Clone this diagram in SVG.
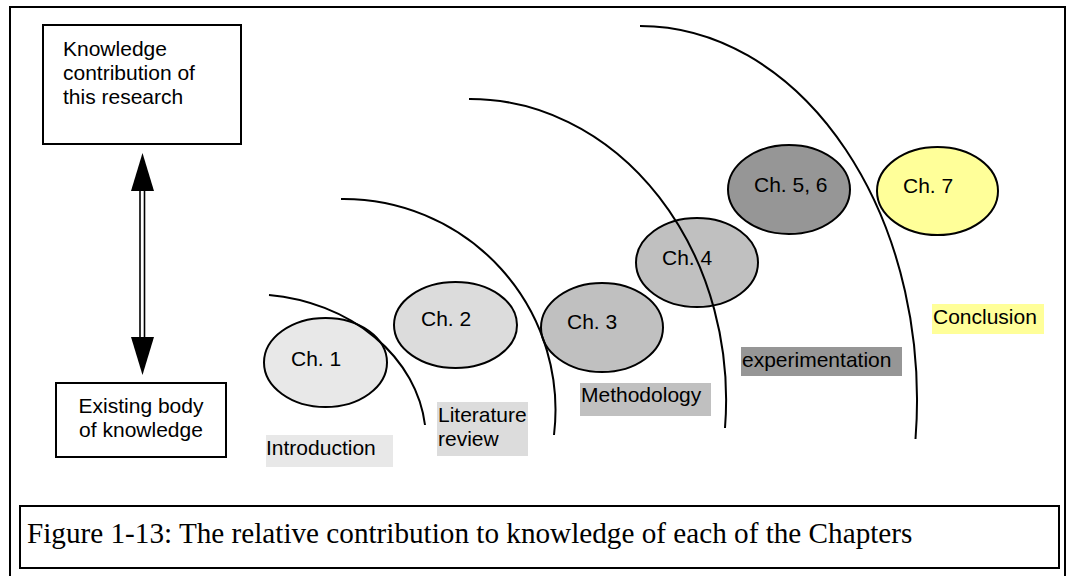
<svg xmlns="http://www.w3.org/2000/svg" width="1066" height="576" viewBox="0 0 1066 576">
<style>
.sans{font-family:"Liberation Sans",Arial,sans-serif;font-size:21px;fill:#000}
.ell{stroke:#000;stroke-width:2}
.box{fill:#fff;stroke:#000;stroke-width:2}
.arc{fill:none;stroke:#000;stroke-width:2}
</style>
<rect width="1066" height="576" fill="#fff"/>
<path d="M10,590 L10,7 L1065,7 L1065,590" fill="none" stroke="#000" stroke-width="2"/>

<g id="knowledge-contribution">
<rect class="box" x="43" y="25" width="198" height="119"/>
<text class="sans" x="63" y="56">Knowledge</text>
<text class="sans" x="63" y="80">contribution of</text>
<text class="sans" x="63" y="104">this research</text>
</g>
<g id="existing-knowledge">
<rect class="box" x="56" y="383" width="170" height="74"/>
<text class="sans" x="141" y="413" text-anchor="middle">Existing body</text>
<text class="sans" x="141" y="437" text-anchor="middle">of knowledge</text>
</g>

<g id="connectors">
<line x1="140" y1="190" x2="140" y2="338" stroke="#000" stroke-width="1.6"/>
<line x1="144.5" y1="190" x2="144.5" y2="338" stroke="#000" stroke-width="1.6"/>
<polygon points="142.5,153 154,191 131,191" fill="#000"/>
<polygon points="142.5,375 154,337 131,337" fill="#000"/>
</g>

<g id="label-introduction"><rect x="266" y="435" width="127" height="32" fill="#e8e8e8"/><text class="sans" x="266" y="455">Introduction</text></g>
<g id="label-literature"><rect x="437" y="402" width="91" height="54" fill="#dcdcdc"/><text class="sans" x="438" y="422">Literature</text><text class="sans" x="438" y="446">review</text></g>
<g id="label-methodology"><rect x="580" y="383" width="131" height="33" fill="#c0c0c0"/><text class="sans" x="581" y="402">Methodology</text></g>
<g id="label-experimentation"><rect x="741" y="347" width="161" height="29" fill="#969696"/><text class="sans" x="742" y="367">experimentation</text></g>
<g id="label-conclusion"><rect x="932" y="304" width="112" height="30" fill="#ffff99"/><text class="sans" x="933" y="324">Conclusion</text></g>

<g id="ch1"><ellipse class="ell" cx="325.5" cy="362.5" rx="61.5" ry="44.5" fill="#e8e8e8"/><text class="sans" x="291" y="366">Ch. 1</text></g>
<g id="ch2"><ellipse class="ell" cx="455.5" cy="325" rx="61.5" ry="43" fill="#dcdcdc"/><text class="sans" x="421" y="326">Ch. 2</text></g>
<g id="ch3"><ellipse class="ell" cx="602" cy="327.5" rx="61" ry="44.5" fill="#c0c0c0"/><text class="sans" x="567" y="329">Ch. 3</text></g>
<g id="ch4"><ellipse class="ell" cx="697" cy="262.5" rx="61" ry="44.5" fill="#c0c0c0"/><text class="sans" x="662" y="265">Ch. 4</text></g>
<g id="ch56"><ellipse class="ell" cx="789" cy="189.5" rx="61" ry="44.5" fill="#969696"/><text class="sans" x="754" y="192">Ch. 5, 6</text></g>
<g id="ch7"><ellipse class="ell" cx="937.5" cy="191" rx="60.5" ry="44" fill="#ffff99"/><text class="sans" x="903" y="193">Ch. 7</text></g>

<g id="arcs">
<path class="arc" d="M269,295 A176,146 0 0 1 425,425"/>
<path class="arc" d="M341,199 A212,211 0 0 1 554,435"/>
<path class="arc" d="M469,99 A256,301 0 0 1 725,428"/>
<path class="arc" d="M640,26 A277,374 0 0 1 915.5,439"/>
</g>

<g id="caption">
<rect class="box" x="20" y="506" width="1039" height="62"/>
<text x="27" y="543" style="font-family:'Liberation Serif','Times New Roman',serif;font-size:29.2px">Figure 1-13: The relative contribution to knowledge of each of the Chapters</text>
</g>
</svg>
